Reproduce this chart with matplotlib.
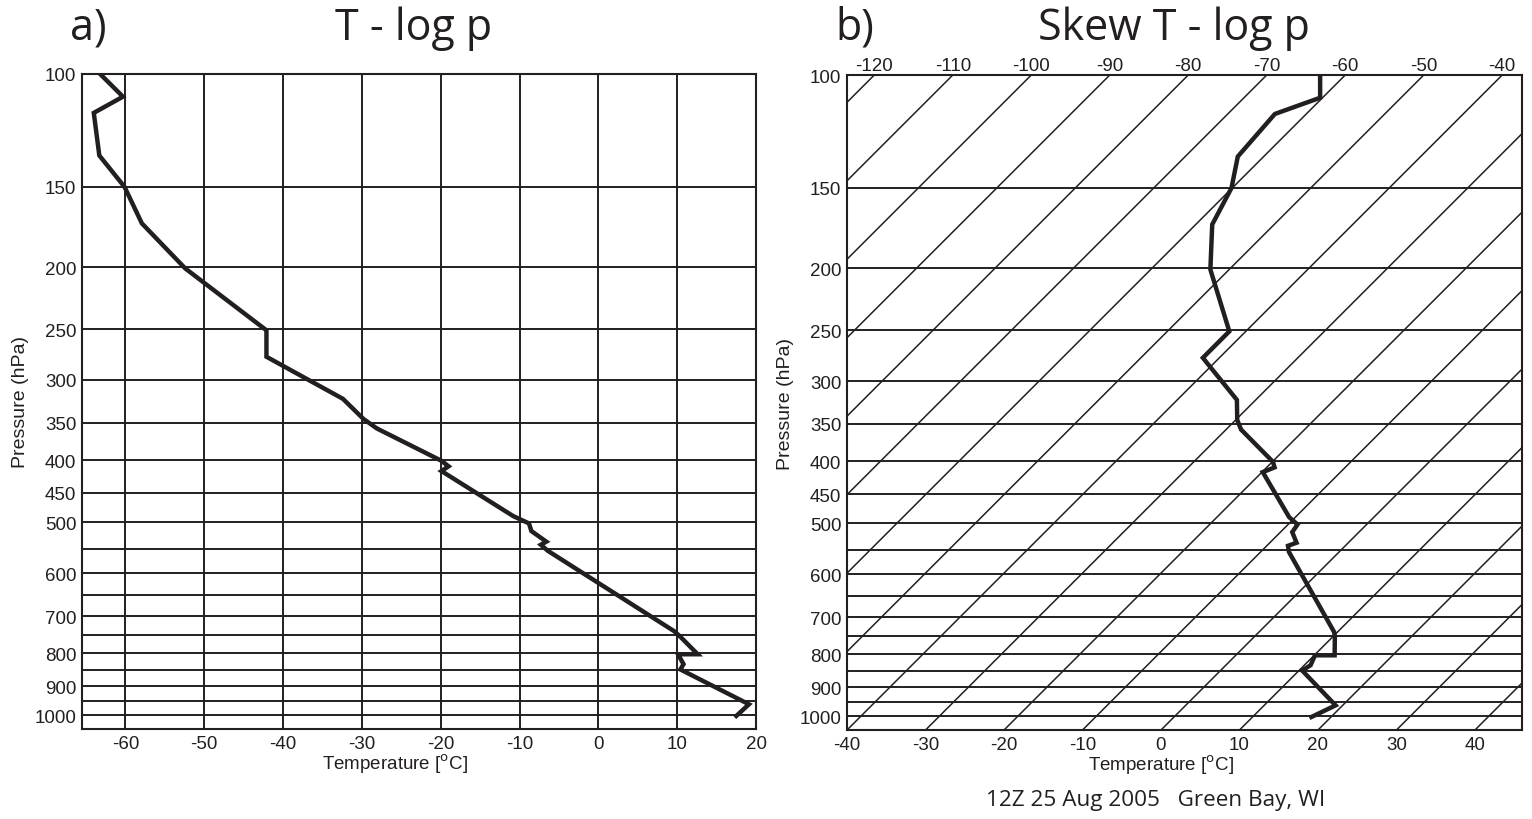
import numpy as np
import matplotlib
matplotlib.use("Agg")
import matplotlib.pyplot as plt

plt.rcParams["axes.unicode_minus"] = False

# sounding, 12Z 25 Aug 2005 Green Bay WI
pressure = [100, 108.5, 115, 134, 150, 171, 201, 251, 276, 321, 345, 357,
            401, 409, 416, 489, 502, 516, 536, 542, 554, 739, 752, 803,
            803, 832, 848, 961, 1002]
temperature = [-63.2, -60.3, -64.0, -63.3, -60.1, -57.9, -52.4, -42.1, -42.1,
               -32.4, -29.8, -28.1, -19.9, -19.0, -19.9, -10.8, -8.8, -8.5,
               -6.6, -7.3, -6.4, 9.6, 10.3, 12.6, 10.1, 10.8, 10.4, 19.1, 17.5]

p_levels = list(range(100, 1001, 50))
p_labels = [100, 150, 200, 250, 300, 350, 400, 450, 500, 600, 700, 800, 900, 1000]
t_grid = list(range(-60, 21, 10))
t_bottom = list(range(-40, 41, 10))
t_top = list(range(-120, -39, 10))
isotherms = list(range(-120, 41, 10))

P_BOT, P_TOP = 1050, 100
SKEW = 35.5  # degC of shift per unit ln(p)

tick_font = "Liberation Sans"
title_font = "Open Sans"
ink = "#231f20"


def skew_x(t, p):
    return np.asarray(t) + SKEW * np.log(P_BOT / np.asarray(p, dtype=float))


def setup_pressure_axis(ax):
    ax.set_yscale("log")
    ax.set_ylim(P_BOT, P_TOP)
    ax.set_yticks(p_levels)
    ax.set_yticklabels([str(p) if p in p_labels else "" for p in p_levels])
    ax.yaxis.set_minor_locator(matplotlib.ticker.NullLocator())
    ax.tick_params(axis="both", length=0, pad=4, labelsize=13.5, labelcolor=ink)
    for lab in ax.get_yticklabels() + ax.get_xticklabels():
        lab.set_fontfamily(tick_font)
    for s in ax.spines.values():
        s.set_linewidth(1.5)
        s.set_color(ink)
    ax.set_ylabel("Pressure (hPa)", fontsize=14, family=tick_font, color=ink)
    ax.yaxis.set_label_coords(-0.078, 0.5)
    ax.set_xlabel("Temperature [$^{\\mathrm{o}}$C]", fontsize=13.5,
                  family=tick_font, color=ink)
    ax.xaxis.set_label_coords(0.465, -0.034)
    ax.xaxis.label.set_va("top")


fig = plt.figure(figsize=(15.32, 8.20), dpi=100)
ax1 = fig.add_axes([0.0535, 0.1098, 0.44, 0.7988])
ax2 = fig.add_axes([0.5529, 0.1085, 0.4406, 0.7988])

# a) T - log p
ax1.set_xlim(-65.5, 20)
ax1.set_xticks(t_grid)
setup_pressure_axis(ax1)
ax1.grid(True, color=ink, linewidth=1.4)
ax1.set_axisbelow(True)
ax1.plot(temperature, pressure, color=ink, linewidth=3.2,
         solid_joinstyle="miter", zorder=3)

# b) Skew T - log p
ax2.set_xlim(-40, 46)
ax2.set_xticks(t_bottom)
setup_pressure_axis(ax2)
ax2.grid(True, axis="y", color=ink, linewidth=1.4)
p_line = np.array([P_BOT, P_TOP], dtype=float)
for t in isotherms:
    ax2.plot(skew_x([t, t], p_line), p_line, color=ink, linewidth=1.1, zorder=2)
ax2.plot(skew_x(temperature, pressure), pressure, color=ink, linewidth=3.2,
         solid_joinstyle="miter", zorder=3)

top_shift = SKEW * np.log(P_BOT / P_TOP)
sec = ax2.secondary_xaxis("top", functions=(lambda x: x - top_shift,
                                           lambda t: t + top_shift))
sec.set_xticks(t_top)
sec.tick_params(length=0, pad=1, labelsize=13.5, labelcolor=ink)
for lab in sec.get_xticklabels():
    lab.set_fontfamily(tick_font)
sec.spines["top"].set_visible(False)

# titles
fig.text(0.046, 0.965, "a)", fontsize=31, family=title_font, color=ink,
         va="center", ha="left")
fig.text(0.27, 0.965, "T - log p", fontsize=31, family=title_font, color=ink,
         va="center", ha="center")
fig.text(0.545, 0.965, "b)", fontsize=31, family=title_font, color=ink,
         va="center", ha="left")
fig.text(0.766, 0.965, "Skew T - log p", fontsize=31, family=title_font,
         color=ink, va="center", ha="center")
fig.text(0.754, 0.024, "12Z 25 Aug 2005   Green Bay, WI", fontsize=16.2,
         family=title_font, color=ink, va="center", ha="center")

fig.savefig("out.png", dpi=100)
